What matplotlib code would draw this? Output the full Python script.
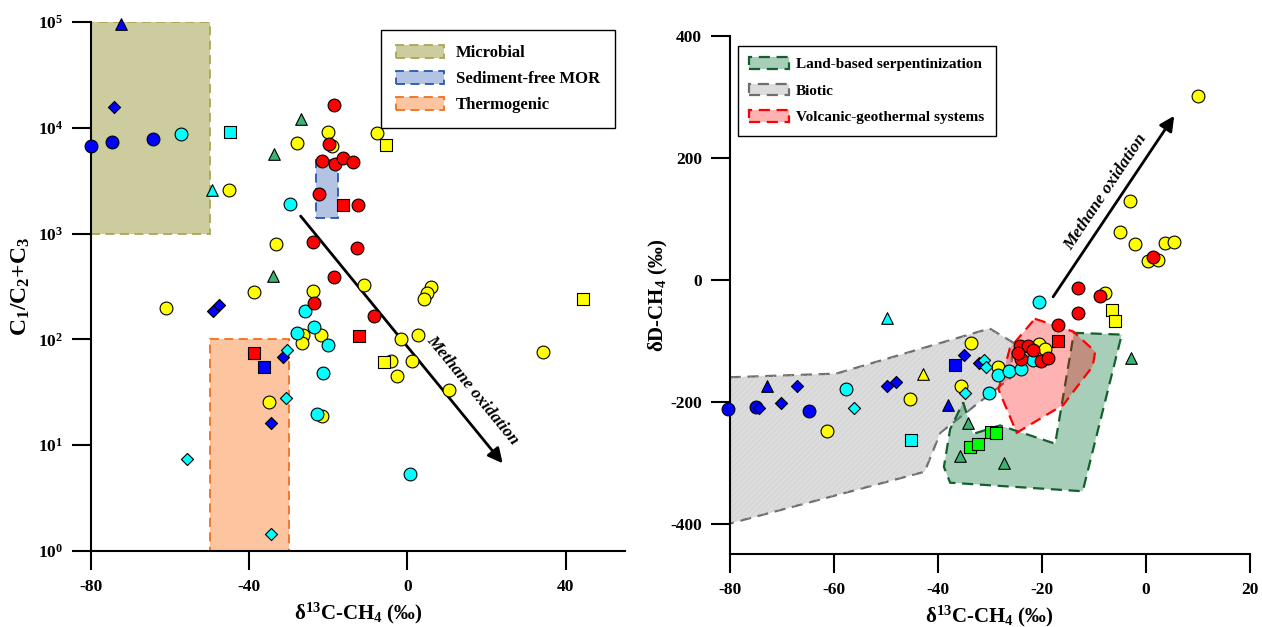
import matplotlib
matplotlib.use("Agg")
import matplotlib.pyplot as plt
from matplotlib.patches import Rectangle, Polygon, Patch
import numpy as np

plt.rcParams['font.family'] = ['Liberation Serif', 'DejaVu Serif']
plt.rcParams['font.weight'] = 'bold'
plt.rcParams['mathtext.fontset'] = 'custom'
plt.rcParams['mathtext.rm'] = 'Liberation Serif:bold'
plt.rcParams['mathtext.it'] = 'Liberation Serif:bold'
plt.rcParams['mathtext.bf'] = 'Liberation Serif:bold'
plt.rcParams['mathtext.default'] = 'rm'
plt.rcParams['axes.unicode_minus'] = False
plt.rcParams['hatch.linewidth'] = 0.4

# ---------------- Left panel data (d13C, C1/(C2+C3)) ----------------
L_blue_circ_x = [-79.9, -74.6, -64.4]
L_blue_circ_y = [6740, 7300, 7780]
L_blue_tri_x = [-72.4]
L_blue_tri_y = [95500]
L_blue_dia_x = [-74.1, -47.7, -49.1, -31.5, -34.6]
L_blue_dia_y = [15800, 211, 184, 68, 16.3]
L_blue_sq_x = [-36.3]
L_blue_sq_y = [54.5]
L_cyan_circ_x = [-57.2, -29.7, -26.0, -23.6, -28.0, -20.1, -21.3, -22.8, 0.7]
L_cyan_circ_y = [8730, 1920, 185, 131, 114, 88.5, 48, 19.7, 5.3]
L_cyan_sq_x = [-44.8]
L_cyan_sq_y = [9060]
L_cyan_tri_x = [-49.4]
L_cyan_tri_y = [2580]
L_cyan_dia_x = [-30.5, -30.6, -55.7, -34.4]
L_cyan_dia_y = [79, 27.7, 7.4, 1.46]
L_yel_circ_x = [-45.1, -28.0, -20.2, -7.7, -19.0, -33.1, -38.8, -61.0, -23.8, -11.0,
                6.0, 5.0, 4.1, -26.3, -26.6, -21.9, -35.0, -21.6, -1.6, 2.7,
                -4.2, 1.1, -2.7, 10.6, 34.2]
L_yel_circ_y = [2580, 7240, 9190, 9000, 6740, 790, 279, 199, 287, 325,
                311, 277, 243, 110, 93, 109, 25.4, 19.0, 100, 109,
                62.5, 63, 44.8, 33.5, 75.5]
L_yel_sq_x = [-5.4, 44.4, -6.0]
L_yel_sq_y = [6870, 240, 61]
L_red_circ_x = [-18.6, -19.8, -21.6, -18.3, -16.3, -13.7, -22.3, -12.6, -23.9, -12.8,
                -18.6, -23.5, -8.4]
L_red_circ_y = [16300, 6980, 4850, 4520, 5150, 4750, 2350, 1860, 840, 726,
                388, 221, 166]
L_red_sq_x = [-16.4, -12.2, -38.8]
L_red_sq_y = [1860, 108, 75]
L_grn_tri_x = [-27.0, -33.8, -34.0]
L_grn_tri_y = [12000, 5650, 398]

# Left fields: (x0, x1, y0, y1)
microbial_box = (-80, -50, 1e3, 1e5)
mor_box = (-23, -17.5, 1400, 5000)
thermo_box = (-50, -30, 1, 100)
L_arrow_start = (-27.0, 1466)
L_arrow_end = (24.1, 6.74)

# ---------------- Right panel data (d13C, dD) ----------------
R_blue_circ_x = [-80.3, -75.0, -64.7]
R_blue_circ_y = [-212, -209, -216]
R_blue_dia_x = [-74.4, -67.1, -70.2, -49.7, -48.0, -35.0, -32.1]
R_blue_dia_y = [-210, -175, -203, -174, -167, -124, -136]
R_blue_tri_x = [-72.8, -38.0]
R_blue_tri_y = [-175, -205]
R_blue_sq_x = [-36.6]
R_blue_sq_y = [-140]
R_cyan_circ_x = [-57.6, -30.1, -28.4, -26.3, -24.0, -21.7, -20.5]
R_cyan_circ_y = [-179, -186, -156, -150, -146, -131, -37]
R_cyan_dia_x = [-56.0, -34.8, -31.0, -30.8]
R_cyan_dia_y = [-210, -185, -131, -143]
R_cyan_tri_x = [-49.8]
R_cyan_tri_y = [-63]
R_cyan_sq_x = [-45.2]
R_cyan_sq_y = [-263]
R_yel_circ_x = [-61.3, -45.4, -33.5, -35.5, -28.4, -20.5, -19.4, -7.9, 10.0, -3.0,
                -4.9, -2.0, 3.7, 5.5, 0.5, 2.3]
R_yel_circ_y = [-248, -196, -104, -174, -143, -105, -113, -22, 302, 130,
                79, 58, 60, 62, 30, 32]
R_yel_tri_x = [-42.9]
R_yel_tri_y = [-155]
R_yel_sq_x = [-6.4, -5.8]
R_yel_sq_y = [-49, -68]
R_red_circ_x = [-24.2, -22.6, -21.7, -23.9, -20.2, -18.7, -24.6, -16.8, -13.0, -8.8, -13.1, 1.5]
R_red_circ_y = [-109, -108, -116, -130, -134, -128, -120, -75, -54, -27, -14, 37]
R_red_sq_x = [-16.9]
R_red_sq_y = [-100]
R_grn_tri_x = [-34.2, -35.7, -27.2, -2.9]
R_grn_tri_y = [-235, -289, -301, -128]
R_lime_sq_x = [-33.8, -32.3, -29.8, -28.7]
R_lime_sq_y = [-275, -269, -250, -252]

biotic_x = [-80, -59.5, -30, -25.5, -26, -39.5, -42.5, -80]
biotic_y = [-160, -154, -80, -103, -161, -251, -315, -400]
serp_x = [-35.1, -33.2, -28.0, -17.4, -13.8, -4.6, -12.1, -37.6, -38.8, -37.6]
serp_y = [-201, -253, -239, -269, -87, -90, -347, -333, -307, -245]
volc_x = [-21.3, -13.9, -9.7, -10.2, -15.8, -24.8, -28.3, -26.1]
volc_y = [-64, -85, -118, -142, -205, -251, -180, -112]
R_arrow_start = (-17.8, -28)
R_arrow_end = (5.5, 269)

BLUE = '#0000ff'
CYAN = '#00ffff'
YEL = '#ffff00'
RED = '#ff0000'
GRN = '#3cb371'
LIME = '#00ff00'

fig = plt.figure(figsize=(12.62, 6.27), dpi=100)
ax1 = fig.add_axes([0.0721, 0.1212, 0.4231, 0.8437])
ax2 = fig.add_axes([0.5782, 0.1164, 0.4120, 0.8262])

MS = {'o': 85, 's': 75, '^': 70, 'D': 38}


def pts(ax, x, y, c, m):
    ax.scatter(x, y, s=MS[m], c=c, marker=m, edgecolors='k', linewidths=0.8, zorder=4,
               clip_on=False)


def hatch_rect(ax, box, color):
    ax.add_patch(Rectangle((box[0], box[2]), box[1] - box[0], box[3] - box[2],
                           facecolor='none', edgecolor=color, lw=0, hatch='//////', zorder=1.05))


# ---------------- Left panel ----------------
ax1.set_yscale('log')
ax1.add_patch(Rectangle((microbial_box[0], microbial_box[2]), microbial_box[1] - microbial_box[0],
                        microbial_box[3] - microbial_box[2], facecolor='#cccc9e',
                        edgecolor='#a8a850', lw=1.3, ls=(0, (5, 3)), zorder=1.1))
hatch_rect(ax1, microbial_box, '#c3c392')
ax1.add_patch(Rectangle((mor_box[0], mor_box[2]), mor_box[1] - mor_box[0],
                        mor_box[3] - mor_box[2], facecolor='#b3c3e3',
                        edgecolor='#2856b0', lw=1.3, ls=(0, (5, 3)), zorder=1.1))
ax1.add_patch(Rectangle((thermo_box[0], thermo_box[2]), thermo_box[1] - thermo_box[0],
                        thermo_box[3] - thermo_box[2], facecolor='#fdc4a0',
                        edgecolor='#f07020', lw=1.3, ls=(0, (5, 3)), zorder=1.1))
hatch_rect(ax1, thermo_box, '#f6bb96')

pts(ax1, L_yel_circ_x, L_yel_circ_y, YEL, 'o')
pts(ax1, L_yel_sq_x, L_yel_sq_y, YEL, 's')
pts(ax1, L_blue_circ_x, L_blue_circ_y, BLUE, 'o')
pts(ax1, L_blue_tri_x, L_blue_tri_y, BLUE, '^')
pts(ax1, L_blue_dia_x, L_blue_dia_y, BLUE, 'D')
pts(ax1, L_blue_sq_x, L_blue_sq_y, BLUE, 's')
pts(ax1, L_cyan_circ_x, L_cyan_circ_y, CYAN, 'o')
pts(ax1, L_cyan_sq_x, L_cyan_sq_y, CYAN, 's')
pts(ax1, L_cyan_tri_x, L_cyan_tri_y, CYAN, '^')
pts(ax1, L_cyan_dia_x, L_cyan_dia_y, CYAN, 'D')
pts(ax1, L_red_circ_x, L_red_circ_y, RED, 'o')
pts(ax1, L_red_sq_x, L_red_sq_y, RED, 's')
pts(ax1, L_grn_tri_x, L_grn_tri_y, GRN, '^')

ax1.annotate('', xy=L_arrow_end, xytext=L_arrow_start,
             arrowprops=dict(arrowstyle='-|>', lw=2, color='k', mutation_scale=22,
                             shrinkA=0, shrinkB=0), zorder=3)
ax1.text(16.5, 32.9, 'Methane oxidation', rotation=-50.7, rotation_mode='anchor',
         ha='center', va='center', fontsize=12.5, style='italic', fontweight='bold')

ax1.set_xlim(-80, 55)
ax1.set_ylim(1, 1e5)
ax1.set_xticks([-80, -40, 0, 40])
ax1.set_yticks([1, 10, 100, 1e3, 1e4, 1e5])
ax1.yaxis.set_minor_locator(matplotlib.ticker.NullLocator())
ax1.set_xlabel('δ$^{13}$C-CH$_4$ (‰)', fontsize=15, fontweight='bold', labelpad=4)
ax1.set_ylabel('C$_1$/C$_2$+C$_3$', fontsize=17, fontweight='bold', labelpad=4)

leg1 = ax1.legend(handles=[
    Patch(facecolor='#cccc9e', edgecolor='#a8a850', ls=(0, (5, 3)), lw=1.3, label='Microbial'),
    Patch(facecolor='#b3c3e3', edgecolor='#2856b0', ls=(0, (5, 3)), lw=1.3, label='Sediment-free MOR'),
    Patch(facecolor='#fdc4a0', edgecolor='#f07020', ls=(0, (5, 3)), lw=1.3, label='Thermogenic')],
    loc='upper right', bbox_to_anchor=(0.981, 0.985), borderaxespad=0,
    prop={'family': 'Liberation Serif', 'weight': 'bold', 'size': 12},
    handlelength=2.9, handleheight=0.8, labelspacing=0.6, borderpad=0.9,
    handletextpad=0.7, fancybox=False, edgecolor='k', framealpha=1)
leg1.get_frame().set_linewidth(1.0)

# ---------------- Right panel ----------------
ax2.add_patch(Polygon(np.column_stack([biotic_x, biotic_y]), closed=True,
                      facecolor='#dcdcdc', edgecolor='#6e6e6e', lw=1.6,
                      ls=(0, (5, 3)), zorder=1))
ax2.add_patch(Polygon(np.column_stack([biotic_x, biotic_y]), closed=True,
                      facecolor='none', edgecolor='#cdcdcd', lw=0, hatch='//////', zorder=1.05))
ax2.add_patch(Polygon(np.column_stack([serp_x, serp_y]), closed=True,
                      facecolor=(0.18, 0.55, 0.34, 0.42), edgecolor='#13602c', lw=1.6,
                      ls=(0, (5, 3)), zorder=1.2))
ax2.add_patch(Polygon(np.column_stack([volc_x, volc_y]), closed=True,
                      facecolor=(1.0, 0.0, 0.0, 0.3), edgecolor='#ff0000', lw=1.6,
                      ls=(0, (5, 3)), zorder=1.4))

pts(ax2, R_yel_circ_x, R_yel_circ_y, YEL, 'o')
pts(ax2, R_yel_tri_x, R_yel_tri_y, YEL, '^')
pts(ax2, R_yel_sq_x, R_yel_sq_y, YEL, 's')
pts(ax2, R_blue_circ_x, R_blue_circ_y, BLUE, 'o')
pts(ax2, R_blue_dia_x, R_blue_dia_y, BLUE, 'D')
pts(ax2, R_blue_tri_x, R_blue_tri_y, BLUE, '^')
pts(ax2, R_blue_sq_x, R_blue_sq_y, BLUE, 's')
pts(ax2, R_cyan_circ_x, R_cyan_circ_y, CYAN, 'o')
pts(ax2, R_cyan_dia_x, R_cyan_dia_y, CYAN, 'D')
pts(ax2, R_cyan_tri_x, R_cyan_tri_y, CYAN, '^')
pts(ax2, R_cyan_sq_x, R_cyan_sq_y, CYAN, 's')
pts(ax2, R_red_circ_x, R_red_circ_y, RED, 'o')
pts(ax2, R_red_sq_x, R_red_sq_y, RED, 's')
pts(ax2, R_grn_tri_x, R_grn_tri_y, GRN, '^')
pts(ax2, R_lime_sq_x, R_lime_sq_y, LIME, 's')

ax2.annotate('', xy=R_arrow_end, xytext=R_arrow_start,
             arrowprops=dict(arrowstyle='-|>', lw=2, color='k', mutation_scale=22,
                             shrinkA=0, shrinkB=0), zorder=3)
ax2.text(-7.7, 143.8, 'Methane oxidation', rotation=56.3, rotation_mode='anchor',
         ha='center', va='center', fontsize=12.5, style='italic', fontweight='bold')

ax2.set_xlim(-80, 20)
ax2.set_ylim(-450, 400)
ax2.set_xticks([-80, -60, -40, -20, 0, 20])
ax2.set_yticks([-400, -200, 0, 200, 400])
ax2.set_xlabel('δ$^{13}$C-CH$_4$ (‰)', fontsize=15, fontweight='bold', labelpad=4)
ax2.set_ylabel('δD-CH$_4$ (‰)', fontsize=15, fontweight='bold', labelpad=0)

leg2 = ax2.legend(handles=[
    Patch(facecolor=(0.18, 0.55, 0.34, 0.42), edgecolor='#13602c', ls=(0, (5, 3)), lw=1.6,
          label='Land-based serpentinization'),
    Patch(facecolor='#dcdcdc', edgecolor='#6e6e6e', ls=(0, (5, 3)), lw=1.6, label='Biotic'),
    Patch(facecolor=(1.0, 0.0, 0.0, 0.3), edgecolor='#ff0000', ls=(0, (5, 3)), lw=1.6,
          label='Volcanic-geothermal systems')],
    loc='upper left', bbox_to_anchor=(0.016, 0.981), borderaxespad=0,
    prop={'family': 'Liberation Serif', 'weight': 'bold', 'size': 11},
    handlelength=2.6, handleheight=0.8, labelspacing=0.8, borderpad=0.75,
    handletextpad=0.45, fancybox=False, edgecolor='k', framealpha=1)
leg2.get_frame().set_linewidth(1.0)

for ax in (ax1, ax2):
    ax.spines['top'].set_visible(False)
    ax.spines['right'].set_visible(False)
    ax.spines['left'].set_linewidth(1.5)
    ax.spines['bottom'].set_linewidth(1.5)
    ax.tick_params(axis='both', which='major', direction='out', length=14, width=1.5,
                   labelsize=12.5, pad=6)
    for lab in ax.get_xticklabels() + ax.get_yticklabels():
        lab.set_fontweight('bold')

fig.savefig('out.png', dpi=100)
